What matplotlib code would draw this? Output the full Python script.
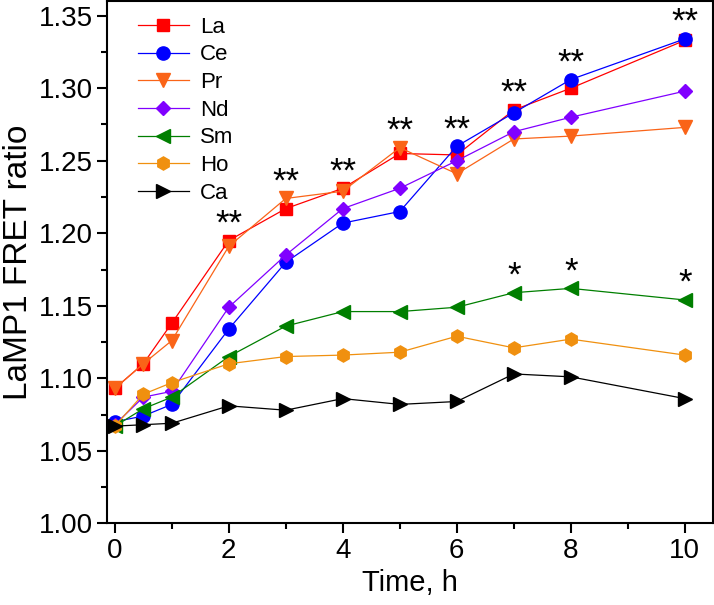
import numpy as np
import matplotlib
matplotlib.use('Agg')
import matplotlib.pyplot as plt
from matplotlib.ticker import MultipleLocator, FormatStrFormatter

plt.rcParams['font.family'] = ['Liberation Sans', 'DejaVu Sans']

t = [0, 0.5, 1, 2, 3, 4, 5, 6, 7, 8, 10]

La = [1.093, 1.110, 1.138, 1.195, 1.217, 1.231, 1.255, 1.254, 1.285, 1.300, 1.333]
Ce = [1.070, 1.074, 1.082, 1.134, 1.180, 1.207, 1.215, 1.260, 1.283, 1.306, 1.334]
Pr = [1.093, 1.110, 1.126, 1.191, 1.224, 1.229, 1.259, 1.241, 1.265, 1.267, 1.273]
Nd = [1.068, 1.087, 1.091, 1.149, 1.185, 1.217, 1.231, 1.250, 1.270, 1.280, 1.298]
Sm = [1.067, 1.079, 1.087, 1.115, 1.136, 1.146, 1.146, 1.149, 1.159, 1.162, 1.154]
Ho = [1.067, 1.089, 1.097, 1.110, 1.115, 1.116, 1.118, 1.129, 1.121, 1.127, 1.116]
Ca = [1.067, 1.068, 1.069, 1.081, 1.078, 1.086, 1.082, 1.084, 1.103, 1.101, 1.086]

# times with significance marks
sig_dbl = [2, 3, 4, 5, 6, 7, 8, 10]
sig_sgl = [7, 8, 10]

series = [
    ('La', La, '#FF0000', 's', 9),
    ('Ce', Ce, '#0000FF', 'o', 9.5),
    ('Pr', Pr, '#FA6418', 'v', 9.5),
    ('Nd', Nd, '#8000FF', 'D', 7.5),
    ('Sm', Sm, '#007F00', '<', 9.5),
    ('Ho', Ho, '#F0900F', 'h', 9.5),
    ('Ca', Ca, '#000000', '>', 9.5),
]

fig = plt.figure(figsize=(7.14, 6.05), dpi=100)
ax = fig.add_axes([0.150, 0.135, 0.849, 0.863])

for name, y, c, m, ms in series:
    ax.plot(t, y, color=c, marker=m, markersize=ms, lw=0.9, label=name)

# ** above the highest curve
for ti in sig_dbl:
    i = t.index(ti)
    top = max(La[i], Ce[i], Pr[i], Nd[i])
    ax.annotate('**', (ti, top), xytext=(0, 0), textcoords='offset points',
                ha='center', va='bottom', fontsize=25)
# * above Sm
for ti in sig_sgl:
    i = t.index(ti)
    ax.annotate('*', (ti, Sm[i]), xytext=(0, 0), textcoords='offset points',
                ha='center', va='bottom', fontsize=25)

ax.set_xlim(-0.135, 10.5)
ax.set_ylim(1.00, 1.36)
ax.xaxis.set_major_locator(MultipleLocator(2))
ax.xaxis.set_minor_locator(MultipleLocator(1))
ax.yaxis.set_major_locator(MultipleLocator(0.05))
ax.yaxis.set_minor_locator(MultipleLocator(0.025))
ax.yaxis.set_major_formatter(FormatStrFormatter('%.2f'))
ax.tick_params(which='both', direction='out', width=1.5, labelsize=20)
ax.tick_params(which='major', length=7)
ax.tick_params(which='minor', length=4)
for s in ax.spines.values():
    s.set_linewidth(1.5)

ax.set_xlabel('Time, h', fontsize=21)
ax.set_ylabel('LaMP1 FRET ratio', fontsize=24, labelpad=3)

ax.legend(loc='upper left', frameon=False, fontsize=16, handlelength=2.3,
          handletextpad=0.5, labelspacing=0.3, borderaxespad=0.3,
          bbox_to_anchor=(0.025, 1.0))

fig.savefig('out.png', dpi=100)
